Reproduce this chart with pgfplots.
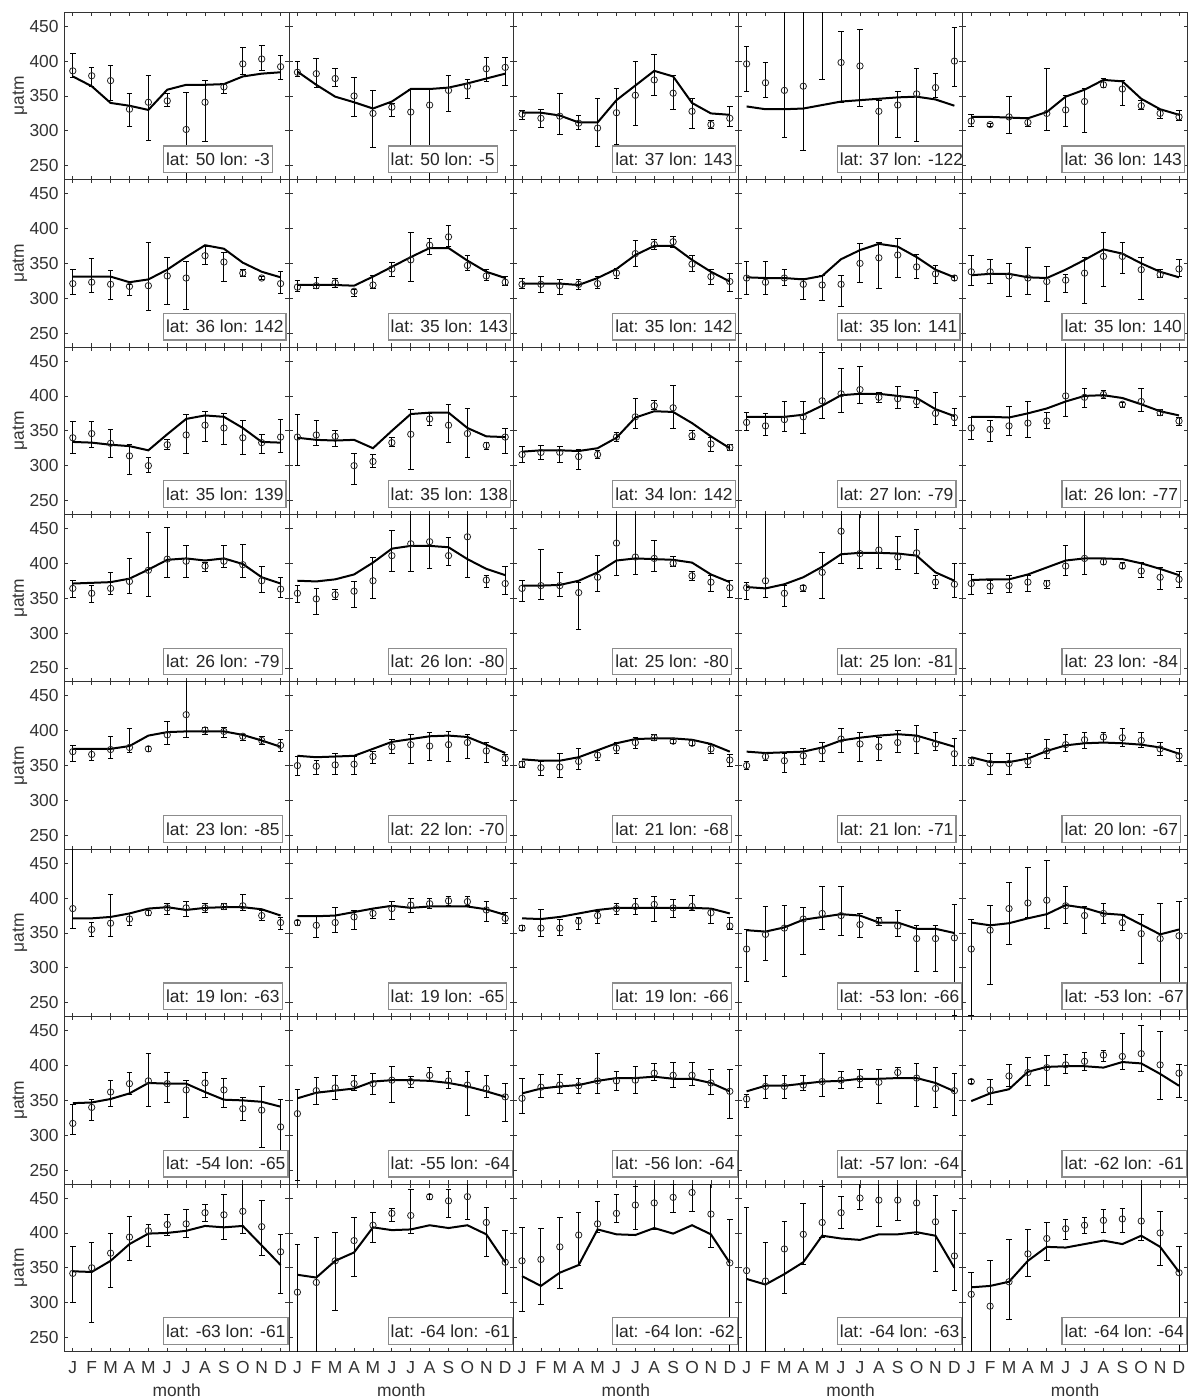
\documentclass[border=0pt]{standalone}
\usepackage{fontspec}
\setmainfont{Liberation Sans}
\usepackage{pgfplots}
\usepackage{pgfplotstable}
\pgfplotsset{compat=1.18}
\newcommand{\fs}{\fontsize{8.7}{10}\selectfont}

% columns: m y hi lo mod
\pgfplotstableread{
m y hi lo mod
1 386 411 376 378
2 379 391 364 364
3 372 394 344 340
4 331 354 306 336
5 341 379 286 330
6 343 353 335 359
7 302 355 220 366
8 341 372 285 366
9 363 368 354 367
10 396 419 381 378
11 403 423 387 382
12 392 408 374 384
}\Taa
\pgfplotstableread{
m y hi lo mod
1 384 399 378 385
2 382 404 362 366
3 375 389 364 349
4 350 376 321 341
5 325 358 276 332
6 334 340 320 342
7 327 360 240 360
8 337 360 220 360
9 358 379 328 362
10 364 374 346 368
11 389 406 371 375
12 391 405 365 382
}\Tab
\pgfplotstableread{
m y hi lo mod
1 324 330 316 326
2 318 331 305 326
3 321 353 295 322
4 311 322 302 312
5 304 346 277 312
6 326 361 280 344
7 351 400 308 365
8 373 410 351 386
9 354 379 331 378
10 328 347 304 340
11 309 315 304 325
12 318 335 307 323
}\Tac
\pgfplotstableread{
m y hi lo mod
1 396 421 356 335
2 369 398 348 331
3 358 480 291 331
4 364 480 272 332
5 480 600 374 337
6 398 443 341 342
7 393 445 335 344
8 328 344 220 346
9 337 357 291 348
10 353 389 285 349
11 362 382 348 345
12 400 449 364 336
}\Tad
\pgfplotstableread{
m y hi lo mod
1 314 323 307 320
2 309 311 307 320
3 320 349 296 319
4 312 319 306 318
5 325 390 300 327
6 330 351 307 349
7 342 361 298 359
8 366 375 362 373
9 360 373 337 371
10 336 344 331 346
11 325 331 318 331
12 320 330 315 323
}\Tae
\pgfplotstableread{
m y hi lo mod
1 321 342 306 331
2 323 357 308 331
3 320 340 299 331
4 317 320 304 323
5 318 380 282 327
6 332 359 291 341
7 329 353 284 359
8 361 374 348 376
9 352 366 324 371
10 336 341 331 351
11 329 331 327 338
12 321 338 307 330
}\Tba
\pgfplotstableread{
m y hi lo mod
1 316 326 310 319
2 318 330 314 319
3 322 329 316 319
4 310 313 302 318
5 319 333 314 331
6 342 352 331 345
7 355 395 324 359
8 376 386 363 372
9 388 404 374 372
10 347 362 340 354
11 332 342 326 338
12 323 331 318 329
}\Tbb
\pgfplotstableread{
m y hi lo mod
1 320 329 314 321
2 320 332 308 321
3 318 327 305 321
4 320 327 312 319
5 321 332 314 329
6 336 343 328 342
7 364 383 345 362
8 377 385 370 375
9 381 388 373 375
10 349 362 338 355
11 331 341 320 338
12 324 336 310 324
}\Tbc
\pgfplotstableread{
m y hi lo mod
1 329 353 306 330
2 323 353 306 329
3 329 341 318 329
4 320 329 298 327
5 319 333 297 332
6 320 333 289 356
7 350 379 323 369
8 358 380 314 378
9 362 386 330 374
10 345 363 329 359
11 335 347 322 341
12 329 333 325 330
}\Tbd
\pgfplotstableread{
m y hi lo mod
1 338 361 318 333
2 338 355 322 335
3 332 350 302 335
4 329 373 306 330
5 324 345 296 329
6 326 334 308 341
7 336 359 293 355
8 360 395 317 370
9 360 380 336 364
10 341 359 299 350
11 334 342 330 338
12 342 355 331 330
}\Tbe
\pgfplotstableread{
m y hi lo mod
1 340 364 318 334
2 346 364 326 333
3 332 352 312 330
4 314 330 287 328
5 300 312 290 322
6 330 337 324 345
7 344 373 318 367
8 358 378 335 372
9 354 375 330 370
10 340 365 316 354
11 333 345 318 334
12 341 367 319 333
}\Tca
\pgfplotstableread{
m y hi lo mod
1 341 373 301 340
2 344 365 329 337
3 342 350 328 336
4 300 318 273 337
5 306 316 297 325
6 333 340 328 350
7 345 381 295 374
8 367 375 358 376
9 358 388 333 376
10 346 382 312 354
11 329 334 324 342
12 341 353 317 341
}\Tcb
\pgfplotstableread{
m y hi lo mod
1 316 328 304 320
2 319 329 309 322
3 319 328 305 322
4 313 323 295 321
5 316 322 311 325
6 341 348 335 340
7 370 397 354 369
8 386 393 381 378
9 383 415 354 377
10 343 351 337 361
11 331 341 321 342
12 326 330 322 325
}\Tcc
\pgfplotstableread{
m y hi lo mod
1 362 377 351 370
2 357 375 344 370
3 366 392 349 370
4 370 392 346 373
5 393 462 368 386
6 403 439 377 401
7 409 443 389 403
8 398 405 390 403
9 396 413 382 400
10 392 408 383 397
11 375 405 359 381
12 369 382 358 371
}\Tcd
\pgfplotstableread{
m y hi lo mod
1 354 369 338 370
2 352 365 335 370
3 357 385 344 369
4 361 392 341 375
5 364 376 354 382
6 400 480 371 392
7 398 411 383 400
8 402 408 396 401
9 388 390 384 397
10 392 411 378 388
11 376 381 372 378
12 364 369 358 372
}\Tce
\pgfplotstableread{
m y hi lo mod
1 364 375 351 371
2 357 368 344 372
3 364 387 356 373
4 374 407 357 378
5 390 444 352 391
6 406 451 380 405
7 403 426 380 407
8 396 401 389 404
9 403 425 394 407
10 398 427 380 399
11 375 395 359 380
12 363 380 351 371
}\Tda
\pgfplotstableread{
m y hi lo mod
1 357 369 344 375
2 349 364 327 374
3 355 363 348 377
4 360 374 337 384
5 375 408 349 401
6 411 447 388 421
7 428 480 389 425
8 431 480 392 425
9 411 437 397 423
10 438 480 380 406
11 376 382 366 392
12 371 396 356 383
}\Tdb
\pgfplotstableread{
m y hi lo mod
1 364 375 345 368
2 368 420 348 368
3 368 387 353 369
4 358 373 305 375
5 380 411 360 387
6 429 480 382 404
7 409 480 384 407
8 407 433 389 406
9 400 410 395 405
10 382 389 375 401
11 373 383 360 384
12 365 375 351 373
}\Tdc
\pgfplotstableread{
m y hi lo mod
1 365 373 348 366
2 375 480 351 364
3 357 368 338 370
4 365 369 360 380
5 387 415 349 395
6 446 480 400 413
7 414 480 392 415
8 419 471 392 415
9 409 439 391 414
10 415 449 385 411
11 373 382 364 387
12 370 400 351 375
}\Tdd
\pgfplotstableread{
m y hi lo mod
1 371 384 356 376
2 367 375 357 377
3 368 383 359 377
4 373 383 360 384
5 371 375 364 394
6 396 426 382 404
7 407 480 384 407
8 402 407 399 407
9 396 401 392 406
10 389 401 380 400
11 380 394 363 392
12 377 388 366 383
}\Tde
\pgfplotstableread{
m y hi lo mod
1 370 379 356 374
2 366 374 358 374
3 373 392 361 374
4 376 404 369 378
5 374 377 371 393
6 394 413 381 398
7 423 480 391 399
8 401 405 395 399
9 399 405 391 399
10 392 395 386 394
11 386 392 380 386
12 379 387 370 377
}\Tea
\pgfplotstableread{
m y hi lo mod
1 350 363 336 364
2 349 358 337 362
3 351 367 338 363
4 352 363 338 364
5 363 370 353 374
6 377 387 368 384
7 380 395 353 388
8 378 398 357 392
9 380 399 356 393
10 383 395 360 391
11 371 383 355 380
12 360 366 350 368
}\Teb
\pgfplotstableread{
m y hi lo mod
1 352 356 348 359
2 347 356 336 357
3 348 367 333 357
4 356 374 345 362
5 365 372 358 372
6 375 383 367 382
7 383 390 375 388
8 390 394 386 389
9 385 387 382 389
10 382 386 379 387
11 374 380 368 381
12 358 366 349 370
}\Tec
\pgfplotstableread{
m y hi lo mod
1 350 356 344 370
2 363 367 358 368
3 357 368 340 369
4 364 374 352 370
5 371 383 356 376
6 388 404 369 386
7 381 398 356 390
8 377 391 358 393
9 383 400 369 395
10 388 407 368 393
11 381 398 372 385
12 367 389 350 377
}\Ted
\pgfplotstableread{
m y hi lo mod
1 356 362 350 362
2 353 368 337 355
3 353 368 337 355
4 356 368 348 360
5 371 387 360 371
6 380 395 370 379
7 387 398 374 382
8 391 398 383 383
9 390 404 377 382
10 386 398 376 380
11 374 383 364 376
12 364 374 356 367
}\Tee
\pgfplotstableread{
m y hi lo mod
1 385 480 357 371
2 355 365 345 371
3 364 406 345 373
4 370 378 361 378
5 379 383 375 385
6 386 392 376 387
7 386 395 374 383
8 386 393 380 386
9 388 393 384 387
10 389 405 383 387
11 375 383 368 384
12 365 373 355 375
}\Tfa
\pgfplotstableread{
m y hi lo mod
1 365 368 361 374
2 361 375 343 374
3 365 387 351 375
4 373 383 355 380
5 378 385 371 385
6 385 395 370 389
7 390 400 380 386
8 392 399 385 388
9 396 402 390 388
10 395 402 389 388
11 383 395 366 384
12 371 380 364 376
}\Tfb
\pgfplotstableread{
m y hi lo mod
1 357 361 353 371
2 357 384 345 370
3 357 370 347 373
4 367 373 355 378
5 375 381 364 383
6 385 392 376 386
7 388 399 376 386
8 391 403 367 386
9 386 398 372 386
10 388 404 382 386
11 379 385 364 385
12 360 372 355 378
}\Tfc
\pgfplotstableread{
m y hi lo mod
1 327 355 280 354
2 348 388 311 352
3 357 389 288 358
4 370 386 319 369
5 378 417 355 373
6 375 417 347 377
7 362 378 343 375
8 367 373 361 365
9 360 382 345 365
10 342 361 295 356
11 342 361 295 356
12 343 391 232 350
}\Tfd
\pgfplotstableread{
m y hi lo mod
1 327 370 232 365
2 354 390 277 361
3 385 423 333 364
4 393 444 372 371
5 397 454 357 377
6 389 417 364 390
7 375 388 350 386
8 378 392 364 378
9 365 376 354 376
10 349 376 307 362
11 342 392 220 348
12 346 396 220 355
}\Tfe
\pgfplotstableread{
m y hi lo mod
1 317 344 301 346
2 340 351 322 347
3 362 378 341 352
4 374 390 358 360
5 378 417 341 375
6 374 390 347 374
7 365 379 326 374
8 375 390 355 362
9 365 381 340 351
10 338 355 321 350
11 336 370 282 348
12 312 352 272 341
}\Tga
\pgfplotstableread{
m y hi lo mod
1 331 366 236 353
2 364 383 344 361
3 368 386 352 364
4 374 386 365 367
5 374 389 358 377
6 379 399 347 379
7 377 384 368 379
8 386 398 377 378
9 378 391 367 375
10 372 392 329 370
11 367 386 355 363
12 355 374 320 355
}\Tgb
\pgfplotstableread{
m y hi lo mod
1 353 382 332 360
2 369 387 355 367
3 372 387 360 370
4 371 382 360 372
5 378 418 360 378
6 378 392 365 382
7 379 399 360 382
8 389 403 378 384
9 386 404 368 381
10 386 404 371 381
11 375 395 358 375
12 363 394 324 363
}\Tgc
\pgfplotstableread{
m y hi lo mod
1 352 358 340 363
2 370 386 353 371
3 370 386 353 371
4 372 386 365 374
5 377 418 356 377
6 379 392 367 378
7 381 395 369 381
8 376 394 346 381
9 390 398 382 382
10 382 403 341 382
11 367 398 340 375
12 364 388 328 363
}\Tgd
\pgfplotstableread{
m y hi lo mod
1 377 380 375 349
2 365 380 344 360
3 385 402 370 366
4 390 411 371 391
5 397 415 372 398
6 401 416 389 399
7 406 419 393 399
8 415 422 406 397
9 413 446 395 405
10 417 457 391 403
11 401 449 351 388
12 389 401 355 371
}\Tge
\pgfplotstableread{
m y hi lo mod
1 342 380 301 345
2 350 386 272 344
3 371 400 322 360
4 394 423 361 384
5 403 412 380 399
6 412 426 396 400
7 413 434 393 403
8 429 441 416 410
9 426 455 391 408
10 431 480 400 410
11 409 447 368 382
12 373 398 313 354
}\Tha
\pgfplotstableread{
m y hi lo mod
1 315 384 220 340
2 329 393 220 336
3 360 401 289 360
4 389 422 337 372
5 411 430 386 408
6 428 435 417 404
7 425 463 400 405
8 452 455 448 411
9 446 463 422 407
10 452 480 420 411
11 415 436 367 398
12 358 404 314 358
}\Thb
\pgfplotstableread{
m y hi lo mod
1 360 408 288 338
2 362 406 298 324
3 380 422 320 343
4 397 430 354 354
5 413 445 401 405
6 428 455 415 398
7 440 467 405 397
8 443 480 405 407
9 451 470 430 399
10 458 480 431 411
11 427 480 379 398
12 357 420 220 357
}\Thc
\pgfplotstableread{
m y hi lo mod
1 346 436 220 334
2 331 386 220 326
3 377 417 314 341
4 398 443 355 358
5 415 467 394 396
6 429 452 406 392
7 450 480 434 390
8 447 480 410 398
9 447 480 418 398
10 443 480 398 401
11 416 454 345 396
12 367 432 317 350
}\Thd
\pgfplotstableread{
m y hi lo mod
1 312 343 220 322
2 295 360 220 324
3 330 391 276 330
4 370 405 338 360
5 392 415 360 380
6 406 420 391 379
7 411 422 399 384
8 418 434 401 389
9 420 435 401 384
10 417 480 389 396
11 400 431 354 380
12 343 381 220 344
}\The

\pgfplotsset{
  panel/.style={
    scale only axis, width=112.3pt, height=83.7pt,
    anchor=south west,
    xmin=0.555, xmax=12.445, ymin=230, ymax=470,
    xtick={1,...,12}, ytick={250,300,350,400,450},
    tick align=inside, major tick length=1.8pt,
    tick style={black!80, line width=0.4pt},
    axis line style={black!80, line width=0.5pt},
    /pgf/number format/assume math mode=true,
    tick label style={font=\fs, text=black!80},
    label style={font=\fs, text=black!80},
    ylabel style={at={(axis description cs:-0.198,0.5)}, anchor=center},
    xlabel style={at={(axis description cs:0.5,-0.232)}, anchor=center},
    yticklabel style={xshift=0.6pt},
    xticklabel style={yshift=-1.3pt},
  },
  nox/.style={xticklabels={}},
  noy/.style={yticklabels={}},
  botx/.style={xticklabels={J,F,M,A,M,J,J,A,S,O,N,D}, xlabel={month}},
  lefty/.style={ylabel={μatm}},
}

\newcommand{\panel}[5]{%
  \begin{axis}[panel, at={(#1pt,#2pt)}, #5]
    \addplot[black, only marks, mark=o, mark size=1.6pt,
      mark options={line width=0.4pt, black!85},
      error bars/.cd, y dir=both, y explicit,
      error bar style={line width=0.5pt, black, mark size=1.4pt}]
      table[x=m, y=y, y error plus expr=\thisrow{hi}-\thisrow{y},
            y error minus expr=\thisrow{y}-\thisrow{lo}] {#3};
    \addplot[black, line width=1pt, no marks] table[x=m, y=mod] {#3};
    \node[draw=black!45, fill=white, line width=0.6pt, anchor=south west,
      inner xsep=1.3pt, inner ysep=0pt, minimum height=13.3pt,
      font=\fs, text=black!85] at (rel axis cs:0.4386,0.0388) {#4};
  \end{axis}}

\begin{document}
\begin{tikzpicture}
\path[use as bounding box] (0,0) rectangle (594.5pt,700pt);
% row 1
\panel{32.2}{610.15}{\Taa}{lat: 50 lon: -3}{nox,lefty}
\panel{144.5}{610.15}{\Tab}{lat: 50 lon: -5}{nox,noy}
\panel{256.8}{610.15}{\Tac}{lat: 37 lon: 143}{nox,noy}
\panel{369.1}{610.15}{\Tad}{lat: 37 lon: -122}{nox,noy}
\panel{481.4}{610.15}{\Tae}{lat: 36 lon: 143}{nox,noy}
% row 2
\panel{32.2}{526.45}{\Tba}{lat: 36 lon: 142}{nox,lefty}
\panel{144.5}{526.45}{\Tbb}{lat: 35 lon: 143}{nox,noy}
\panel{256.8}{526.45}{\Tbc}{lat: 35 lon: 142}{nox,noy}
\panel{369.1}{526.45}{\Tbd}{lat: 35 lon: 141}{nox,noy}
\panel{481.4}{526.45}{\Tbe}{lat: 35 lon: 140}{nox,noy}
% row 3
\panel{32.2}{442.75}{\Tca}{lat: 35 lon: 139}{nox,lefty}
\panel{144.5}{442.75}{\Tcb}{lat: 35 lon: 138}{nox,noy}
\panel{256.8}{442.75}{\Tcc}{lat: 34 lon: 142}{nox,noy}
\panel{369.1}{442.75}{\Tcd}{lat: 27 lon: -79}{nox,noy}
\panel{481.4}{442.75}{\Tce}{lat: 26 lon: -77}{nox,noy}
% row 4
\panel{32.2}{359.05}{\Tda}{lat: 26 lon: -79}{nox,lefty}
\panel{144.5}{359.05}{\Tdb}{lat: 26 lon: -80}{nox,noy}
\panel{256.8}{359.05}{\Tdc}{lat: 25 lon: -80}{nox,noy}
\panel{369.1}{359.05}{\Tdd}{lat: 25 lon: -81}{nox,noy}
\panel{481.4}{359.05}{\Tde}{lat: 23 lon: -84}{nox,noy}
% row 5
\panel{32.2}{275.35}{\Tea}{lat: 23 lon: -85}{nox,lefty}
\panel{144.5}{275.35}{\Teb}{lat: 22 lon: -70}{nox,noy}
\panel{256.8}{275.35}{\Tec}{lat: 21 lon: -68}{nox,noy}
\panel{369.1}{275.35}{\Ted}{lat: 21 lon: -71}{nox,noy}
\panel{481.4}{275.35}{\Tee}{lat: 20 lon: -67}{nox,noy}
% row 6
\panel{32.2}{191.65}{\Tfa}{lat: 19 lon: -63}{nox,lefty}
\panel{144.5}{191.65}{\Tfb}{lat: 19 lon: -65}{nox,noy}
\panel{256.8}{191.65}{\Tfc}{lat: 19 lon: -66}{nox,noy}
\panel{369.1}{191.65}{\Tfd}{lat: -53 lon: -66}{nox,noy}
\panel{481.4}{191.65}{\Tfe}{lat: -53 lon: -67}{nox,noy}
% row 7
\panel{32.2}{107.95}{\Tga}{lat: -54 lon: -65}{nox,lefty}
\panel{144.5}{107.95}{\Tgb}{lat: -55 lon: -64}{nox,noy}
\panel{256.8}{107.95}{\Tgc}{lat: -56 lon: -64}{nox,noy}
\panel{369.1}{107.95}{\Tgd}{lat: -57 lon: -64}{nox,noy}
\panel{481.4}{107.95}{\Tge}{lat: -62 lon: -61}{nox,noy}
% row 8
\panel{32.2}{24.25}{\Tha}{lat: -63 lon: -61}{botx,lefty}
\panel{144.5}{24.25}{\Thb}{lat: -64 lon: -61}{botx,noy}
\panel{256.8}{24.25}{\Thc}{lat: -64 lon: -62}{botx,noy}
\panel{369.1}{24.25}{\Thd}{lat: -64 lon: -63}{botx,noy}
\panel{481.4}{24.25}{\The}{lat: -64 lon: -64}{botx,noy}
\end{tikzpicture}
\end{document}
